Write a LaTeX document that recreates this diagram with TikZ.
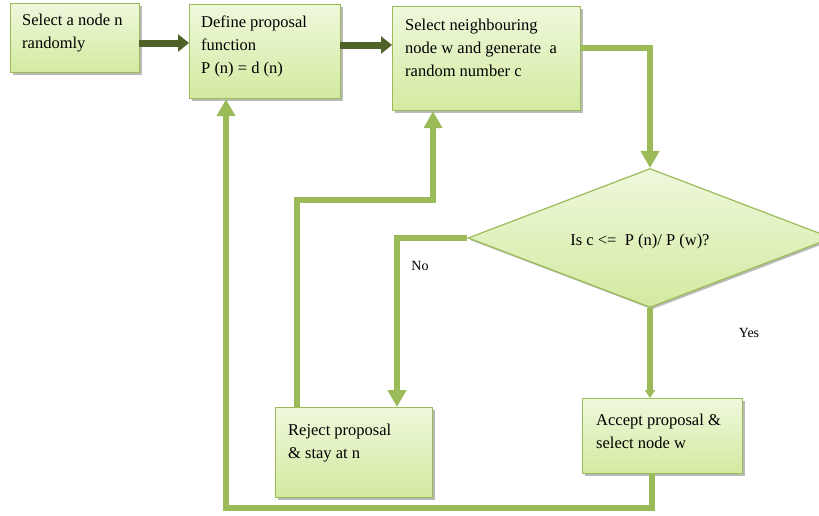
\documentclass[tikz,border=0pt]{standalone}
\usepackage{fontspec}
\setmainfont{Liberation Serif}
\usetikzlibrary{arrows.meta,shapes.geometric,shadows,calc}
\definecolor{lineg}{HTML}{9BBB59}
\definecolor{darkg}{HTML}{4F6228}
\definecolor{boxtop}{HTML}{EEF8DC}
\definecolor{boxbot}{HTML}{D3EAA0}
\begin{document}
\begin{tikzpicture}[x=1pt,y=-1pt,
  box/.style={draw=lineg, line width=1.2pt, top color=boxtop, bottom color=boxbot,
    drop shadow={shadow xshift=2pt, shadow yshift=-2pt, fill=black!45, opacity=0.6},
    inner sep=0pt, anchor=north west},
  txt/.style={anchor=north west, align=left, inner sep=0pt, font=\fontsize{16.5}{23}\selectfont},
  lbl/.style={inner sep=0pt, font=\fontsize{14}{16}\selectfont},
  conn/.style={draw=lineg, line width=6pt},
  garrow/.style={conn, -{Triangle[length=17pt,width=18pt]}},
  darrow/.style={draw=darkg, line width=7pt, -{Triangle[length=11pt,width=17pt]}}]
\useasboundingbox (0,0) rectangle (819,515);
% boxes
\node[box, minimum width=129pt, minimum height=69pt] (b1) at (10,3) {};
\node[box, minimum width=151pt, minimum height=94pt] (b2) at (189,4) {};
\node[box, minimum width=188pt, minimum height=104pt] (b3) at (392,6) {};
\node[box, minimum width=157pt, minimum height=90pt] (rej) at (275,407) {};
\node[box, minimum width=160pt, minimum height=75pt] (acc) at (582,398) {};
\node[draw=lineg, line width=1.2pt, shape=diamond, top color=boxtop, bottom color=boxbot,
  drop shadow={shadow xshift=2pt, shadow yshift=-2pt, fill=black!45, opacity=0.6},
  minimum width=364pt, minimum height=139pt, inner sep=0pt] (dec) at (650,238) {};
% texts
\node[txt] (t1) at (22,14) {Select a node n\\randomly};
\node[txt] (t2) at (201,16) {Define proposal\\function\\P (n) = d (n)};
\node[txt] (t3) at (405,19) {Select neighbouring\\node w and generate\ \ a\\random number c};
\node[txt] (t4) at (288,424) {Reject proposal\\\& stay at n};
\node[txt] (t5) at (596,414) {Accept proposal \&\\select node w};
\node[txt, anchor=center] (td) at (640,242) {Is c <=\ \ P (n)/ P (w)?};
\node[lbl] (no) at (420,266) {No};
\node[lbl] (yes) at (749,333) {Yes};
% coordinates
\coordinate (c1) at (650,48);
\coordinate (c2) at (397,238);
\coordinate (c3) at (652,508);
\coordinate (c4) at (226,508);
\coordinate (c5) at (297,200);
\coordinate (c6) at (433,200);
% dark arrows
\draw[darrow] (139,43) -- (b2.west |- 0,43);
\draw[darrow] (340,45) -- (b3.west |- 0,45);
% green connectors
\draw[garrow] (b3.east |- c1) -- (c1) -- (dec.north);
\draw[garrow] (dec.west) -- (c2) -- (c2 |- rej.north);
\draw[conn, -{Triangle[length=8pt,width=10pt]}] (dec.south) -- (acc.north -| dec.south);
\draw[garrow] (acc.south -| c3) -- (c3) -- (c4) -- (c4 |- b2.south);
\draw[garrow] (c5 |- rej.north) -- (c5) -- (c6) -- (c6 |- b3.south);
\end{tikzpicture}
\end{document}
